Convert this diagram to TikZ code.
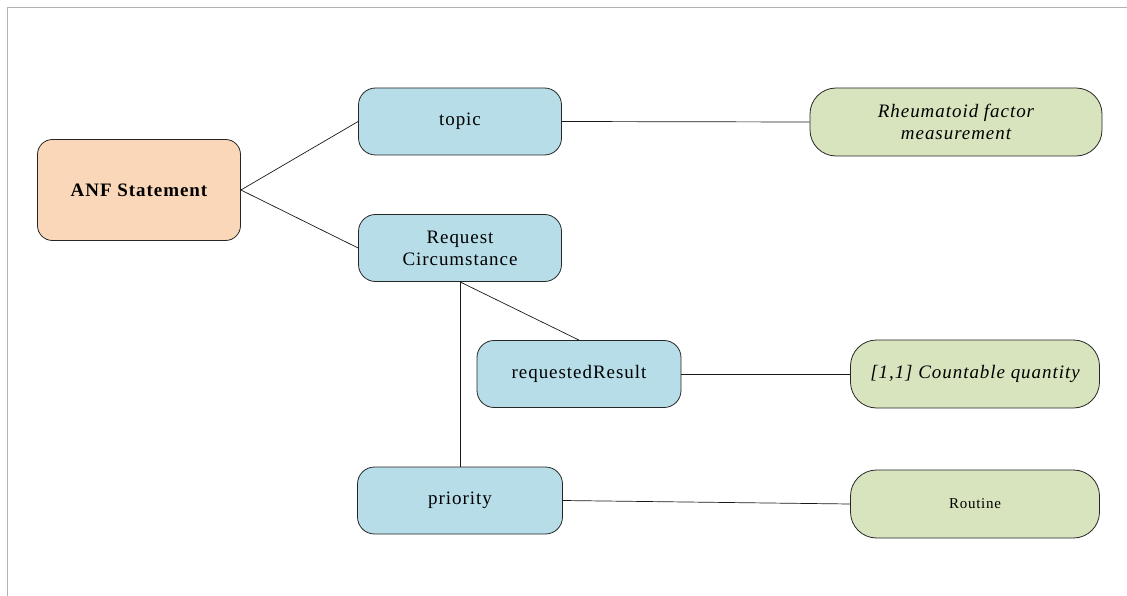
\documentclass[tikz,border=0pt]{standalone}
\usepackage{fontspec}
\setmainfont{Liberation Serif}[LetterSpace=5]
\definecolor{anfpeach}{HTML}{FBD7B9}
\definecolor{attrblue}{HTML}{B7DDE8}
\definecolor{valgreen}{HTML}{D7E4BD}
\begin{document}
\begin{tikzpicture}
[
    x=1pt, y=-1pt,
    box/.style={draw=black!85, line width=0.8pt, align=center, inner sep=2pt,
        font=\fontsize{19}{22}\selectfont},
    anf/.style={box, fill=anfpeach, rounded corners=15pt, minimum width=203pt,
        minimum height=101pt, font=\bfseries\fontsize{19}{22}\selectfont},
    attr/.style={box, fill=attrblue, rounded corners=17pt, minimum width=203pt, minimum height=67pt},
    val/.style={box, fill=valgreen, rounded corners=26pt, minimum height=68pt,
        font=\itshape\fontsize{19}{22}\selectfont},
    link/.style={draw=black!90, line width=0.7pt},
]
\useasboundingbox (0,0) rectangle (1127,596);
\draw[black!30, line width=1.3pt] (1127,7.5) -- (7.5,7.5) -- (7.5,596);

\node[anf] (anf) at (139,190) {ANF Statement};
\node[attr] (topic) at (460,121.5) {topic};
\node[attr] (req) at (460,248) {Request\\Circumstance};
\node[attr, minimum width=204pt] (reqres) at (579,374) {requestedResult};
\node[attr, minimum width=205pt] (prio) at (460,500.5) {priority};
\node[val, minimum width=292pt] (rheum) at (956,122) {Rheumatoid factor\\measurement};
\node[val, minimum width=249pt] (count) at (975,374) {[1,1] Countable quantity};
\node[val, minimum width=249pt, font=\fontsize{15}{18}\selectfont] (routine) at (975,504) {Routine};

\draw[link] (anf.east) -- (topic.west);
\draw[link] (anf.east) -- (req.west);
\draw[link] (topic.east) -- (rheum.west);
\draw[link] (req.south) -- (reqres.north);
\draw[link] (req.south) -- (prio.north);
\draw[link] (reqres.east) -- (count.west);
\draw[link] (prio.east) -- (routine.west);
\end{tikzpicture}
\end{document}
